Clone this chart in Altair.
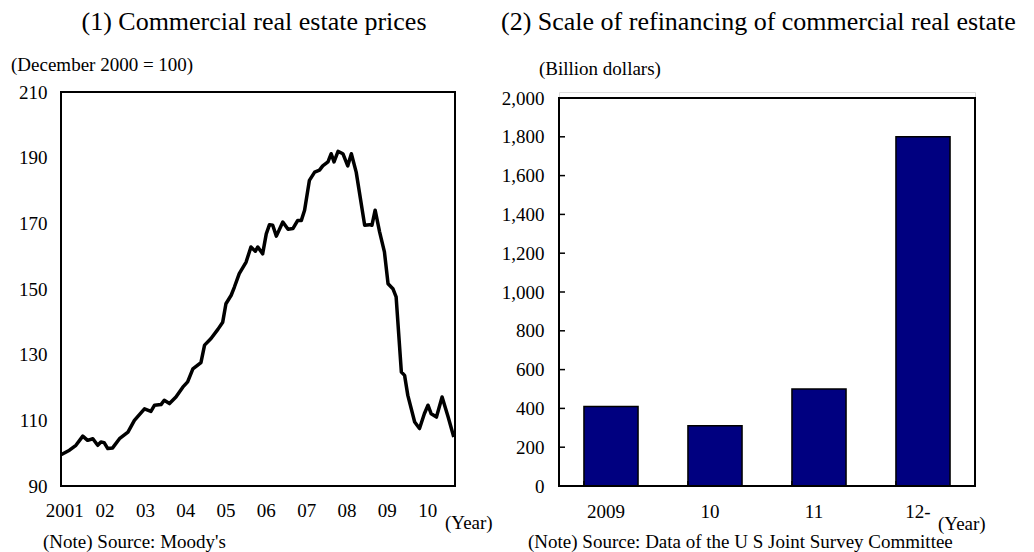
import altair as alt
import pandas as pd

# ---- Panel (1): Commercial real estate prices (December 2000 = 100) ----
price_dates = [
    2000.92, 2001.13, 2001.29, 2001.46, 2001.58, 2001.71, 2001.83, 2001.91, 2001.99, 2002.08,
    2002.20, 2002.37, 2002.58, 2002.74, 2002.99, 2003.15, 2003.24, 2003.40, 2003.48, 2003.61,
    2003.77, 2003.94, 2004.06, 2004.19, 2004.39, 2004.48, 2004.64, 2004.81, 2004.93, 2005.01,
    2005.14, 2005.22, 2005.34, 2005.51, 2005.63, 2005.74, 2005.80, 2005.92, 2006.01, 2006.09,
    2006.17, 2006.26, 2006.42, 2006.55, 2006.67, 2006.79, 2006.88, 2006.96, 2007.08, 2007.21,
    2007.33, 2007.41, 2007.54, 2007.62, 2007.69, 2007.79, 2007.91, 2008.03, 2008.12, 2008.24,
    2008.45, 2008.57, 2008.63, 2008.71, 2008.82, 2008.94, 2009.03, 2009.15, 2009.23, 2009.36,
    2009.44, 2009.52, 2009.69, 2009.81, 2009.93, 2010.02, 2010.10, 2010.23, 2010.37, 2010.52,
    2010.66,
]
price_values = [
    99.5, 100.9, 102.4, 105.2, 103.9, 104.4, 102.4, 103.4, 103.2, 101.4,
    101.6, 104.4, 106.4, 110.0, 113.5, 112.7, 114.6, 114.8, 116.1, 115.1,
    117.1, 120.1, 121.7, 125.7, 127.6, 132.9, 134.9, 137.7, 139.9, 145.5,
    148.1, 150.6, 154.7, 158.2, 162.8, 161.5, 162.8, 160.7, 166.8, 169.6,
    169.4, 166.1, 170.4, 168.2, 168.4, 170.9, 170.9, 174.0, 183.1, 185.6,
    186.2, 187.5, 188.7, 191.2, 188.7, 191.9, 191.2, 187.5, 191.2, 185.6,
    169.4, 169.6, 169.4, 174.0, 167.4, 161.3, 151.6, 150.1, 147.6, 124.7,
    123.7, 117.6, 109.5, 107.5, 112.0, 114.6, 112.0, 111.0, 117.1, 111.0,
    104.9,
]
price_ticks = [90, 110, 130, 150, 170, 190, 210]
year_ticks = [2001, 2002, 2003, 2004, 2005, 2006, 2007, 2008, 2009, 2010]
year_labels = ["2001", "02", "03", "04", "05", "06", "07", "08", "09", "10"]

# ---- Panel (2): Scale of refinancing of commercial real estate (billion dollars) ----
refi_years = ["2009", "10", "11", "12-"]
refi_values = [410, 310, 500, 1800]
refi_ticks = [0, 200, 400, 600, 800, 1000, 1200, 1400, 1600, 1800, 2000]
refi_inner_ticks = [200, 400, 600, 800, 1000, 1200, 1400, 1600, 1800]

FONT = "Liberation Serif"
W1, H = 394, 394
W2 = 416
TOP2 = 6
FS = 19
TFS = 26


def note(text, x, y, size=FS, align="left", baseline="middle"):
    return alt.Chart(pd.DataFrame({"t": [text]})).mark_text(
        align=align, baseline=baseline, fontSize=size, font=FONT, color="black"
    ).encode(x=alt.value(x), y=alt.value(y), text="t:N")


def frame(x0, x1, y0, y1):
    return alt.Chart(pd.DataFrame({"a": [0]})).mark_rect(
        fillOpacity=0, stroke="black", strokeWidth=2
    ).encode(x=alt.value(x0), x2=alt.value(x1), y=alt.value(y0), y2=alt.value(y1))


label_expr = "[" + ",".join("'%s'" % l for l in year_labels) + "][round(datum.value) - 2001]"

line_df = pd.DataFrame({"date": price_dates, "price": price_values})
line = alt.Chart(line_df).mark_line(color="black", strokeWidth=3.5, strokeJoin="round").encode(
    x=alt.X("date:Q",
            scale=alt.Scale(domain=[2000.92, 2010.69], nice=False, zero=False),
            axis=alt.Axis(values=year_ticks, labelExpr=label_expr, title=None, grid=False,
                          ticks=False, tickSize=0, domain=False, labelPadding=24,
                          labelFontSize=FS, labelBaseline="middle", labelFlush=False,
                          labelOverlap=False)),
    y=alt.Y("price:Q",
            scale=alt.Scale(domain=[90, 210], nice=False, zero=False),
            axis=alt.Axis(values=price_ticks, title=None, grid=False, ticks=False, tickSize=0,
                          domain=False, labelPadding=14, labelFontSize=FS, labelOverlap=False)),
)

left = alt.layer(
    line,
    frame(0, W1, 0, H),
    note("(1) Commercial real estate prices", 193, -62, size=TFS, align="center", baseline="alphabetic"),
    note("(December 2000 = 100)", -50, -27),
    note("(Year)", 384, 431),
    note("(Note) Source: Moody's", -18, 450),
).properties(width=W1, height=H)

bar_df = pd.DataFrame({"year": refi_years, "value": refi_values})
yscale = alt.Scale(domain=[0, 2000], range=[H, TOP2], nice=False, zero=True)
xscale = alt.Scale(domain=refi_years, paddingInner=0.48, paddingOuter=0.24)
xaxis = alt.Axis(title=None, labelAngle=0, ticks=False, tickSize=0, domain=False,
                 labelPadding=25, labelFontSize=FS, labelBaseline="middle", labelOffset=-5)
yaxis = alt.Axis(values=refi_ticks, format=",.0f", title=None, grid=False, ticks=False,
                 tickSize=0, domain=False, labelPadding=15, labelFontSize=FS,
                 labelOverlap=False)

bars = alt.Chart(bar_df).mark_bar(color="#000080", stroke="black", strokeWidth=1.5).encode(
    x=alt.X("year:N", sort=refi_years, scale=xscale, axis=xaxis),
    y=alt.Y("value:Q", scale=yscale, axis=yaxis),
)

ytick_rules = alt.Chart(pd.DataFrame({"value": refi_inner_ticks})).mark_rule(
    color="black", strokeWidth=1.5
).encode(y=alt.Y("value:Q", scale=yscale, axis=yaxis), x=alt.value(0), x2=alt.value(6))

xtick_rules = alt.Chart(bar_df).mark_rule(color="black", strokeWidth=1.5).encode(
    x=alt.X("year:N", sort=refi_years, scale=xscale, bandPosition=0, axis=xaxis),
    y=alt.value(H), y2=alt.value(H - 5),
)

right = alt.layer(
    bars,
    ytick_rules,
    xtick_rules,
    frame(0, W2, TOP2, H),
    note("(2) Scale of refinancing of commercial real estate", -58, -62, size=TFS, baseline="alphabetic"),
    note("(Billion dollars)", -20, -23),
    note("(Year)", 379, 432),
    note("(Note) Source: Data of the U S  Joint Survey Committee", -31, 450),
).properties(width=W2, height=H)

chart = alt.hconcat(left, right, spacing=104, bounds="flush").properties(
    padding={"left": 2, "top": 0, "right": 0, "bottom": 0}
).configure_view(stroke=None).configure_axis(
    labelFont=FONT, labelColor="black"
).configure(font=FONT)

chart.save("out.html", embed_options={"renderer": "svg", "actions": False})
